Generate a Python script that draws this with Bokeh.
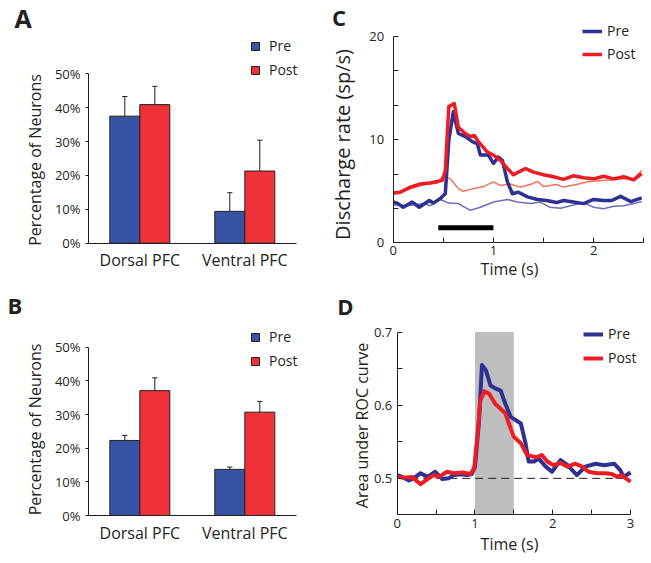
from bokeh.plotting import figure
from bokeh.models import (ColumnDataSource, Range1d, FixedTicker,
                          PrintfTickFormatter, Legend, LegendItem, Label,
                          BoxAnnotation)
from bokeh.transform import dodge
from bokeh.layouts import row, column
from bokeh.embed import file_html
from bokeh.resources import INLINE

# ---------------- data ----------------
regions = ["Dorsal PFC", "Ventral PFC"]
pct_ticks = [0, 10, 20, 30, 40, 50]

a_pre = [37.5, 9.4]
a_pre_err = [43.3, 14.9]
a_post = [40.9, 21.3]
a_post_err = [46.3, 30.4]

b_pre = [22.3, 13.7]
b_pre_err = [23.8, 14.4]
b_post = [37.1, 30.7]
b_post_err = [40.9, 33.9]

# Panel C: discharge rate (sp/s)
c_pre_t = [0, 0.04, 0.1, 0.19, 0.26, 0.36, 0.4, 0.47, 0.52, 0.555, 0.6, 0.65,
           0.72, 0.79, 0.84, 0.87, 0.95, 1.0, 1.05, 1.09, 1.14, 1.19, 1.25,
           1.34, 1.44, 1.53, 1.63, 1.7, 1.8, 1.9, 2.0, 2.1, 2.18, 2.27, 2.37, 2.48]
c_pre = [3.95, 3.85, 3.45, 3.95, 3.45, 4.1, 3.85, 4.3, 4.75, 9.9, 12.7, 10.6,
         10.3, 9.8, 9.6, 8.5, 8.5, 7.7, 8.3, 8.0, 5.9, 4.75, 4.9,
         4.45, 4.2, 4.1, 3.9, 4.1, 3.95, 3.8, 4.2, 4.1, 4.1, 4.5, 4.0, 4.35]
c_post_t = [0, 0.07, 0.17, 0.27, 0.37, 0.44, 0.49, 0.52, 0.555, 0.61, 0.65,
            0.72, 0.77, 0.81, 0.85, 0.94, 1.0, 1.07, 1.14, 1.2, 1.24, 1.32,
            1.4, 1.5, 1.6, 1.7, 1.8, 1.9, 2.0, 2.1, 2.2, 2.3, 2.4, 2.48]
c_post = [4.82, 4.9, 5.4, 5.7, 5.8, 5.95, 6.05, 7.0, 13.2, 13.5, 11.2,
          10.6, 10.3, 10.4, 9.8, 8.8, 8.5, 8.0, 7.2, 6.6, 6.8, 7.2,
          6.85, 6.6, 6.4, 6.15, 6.5, 6.3, 6.2, 6.45, 6.2, 6.4, 6.1, 6.7]
c_pre_thin_t = [0, 0.14, 0.31, 0.37, 0.47, 0.555, 0.65, 0.77, 0.87, 1.0, 1.14,
                1.24, 1.37, 1.47, 1.56, 1.67, 1.77, 1.9, 2.0, 2.1, 2.2, 2.3, 2.4, 2.48]
c_pre_thin = [3.7, 3.6, 3.8, 3.6, 4.2, 3.85, 3.8, 3.15, 3.45, 3.95, 4.2,
              3.95, 3.8, 3.95, 3.45, 3.35, 3.6, 3.9, 3.45, 3.3, 3.55, 3.6, 3.8, 4.0]
c_post_thin_t = [0, 0.14, 0.31, 0.44, 0.5, 0.57, 0.65, 0.7, 0.8, 0.9, 1.0, 1.07,
                 1.17, 1.27, 1.37, 1.44, 1.5, 1.63, 1.7, 1.83, 1.93, 2.07, 2.17,
                 2.3, 2.4, 2.48]
c_post_thin = [4.7, 5.15, 5.65, 5.8, 6.5, 6.2, 5.25, 5.0, 5.25, 5.45, 5.9, 5.55,
               5.7, 5.4, 5.65, 5.95, 5.45, 5.65, 5.4, 5.65, 5.9, 6.05, 6.1,
               6.2, 6.2, 7.0]
cue_t = [0.45, 1.0]
cue_y = [1.45, 1.45]
c_xticks = [0, 1, 2]
c_yticks = [0, 10, 20]

# Panel D: area under ROC curve
d_pre_t = [0, 0.065, 0.15, 0.21, 0.3, 0.39, 0.49, 0.58, 0.66, 0.73, 0.81, 0.9,
           0.96, 1.0, 1.05, 1.09, 1.14, 1.2, 1.26, 1.33, 1.39, 1.46, 1.52, 1.59,
           1.65, 1.69, 1.76, 1.82, 1.91, 1.99, 2.1, 2.19, 2.31, 2.42, 2.55,
           2.66, 2.79, 2.87, 2.91, 3.0]
d_pre = [0.5045, 0.502, 0.497, 0.5, 0.507, 0.502, 0.509, 0.499, 0.5, 0.5045,
         0.5055, 0.5045, 0.506, 0.516, 0.575, 0.655, 0.648, 0.627, 0.623, 0.62,
         0.602, 0.584, 0.58, 0.575, 0.548, 0.523, 0.523, 0.527, 0.516, 0.509,
         0.525, 0.518, 0.5045, 0.516, 0.52, 0.518, 0.52, 0.511, 0.502, 0.508]
d_post_t = [0, 0.09, 0.19, 0.3, 0.39, 0.47, 0.54, 0.64, 0.73, 0.84, 0.94, 0.99,
            1.03, 1.07, 1.12, 1.18, 1.26, 1.33, 1.39, 1.46, 1.5, 1.59, 1.67,
            1.74, 1.8, 1.86, 1.93, 2.01, 2.1, 2.19, 2.29, 2.38, 2.46, 2.57,
            2.68, 2.76, 2.83, 2.89, 2.94, 3.0]
d_post = [0.502, 0.501, 0.502, 0.492, 0.499, 0.5045, 0.502, 0.509, 0.507, 0.508,
          0.506, 0.514, 0.557, 0.607, 0.619, 0.616, 0.602, 0.595, 0.589, 0.568,
          0.557, 0.548, 0.532, 0.53, 0.529, 0.532, 0.523, 0.518, 0.521, 0.516,
          0.52, 0.516, 0.509, 0.507, 0.507, 0.506, 0.502, 0.5045, 0.5, 0.4955]
d_window = [1.0, 1.5]
d_chance_t = [0, 3]
d_chance = [0.5, 0.5]
d_xticks = [0, 1, 2, 3]
d_yticks = [0.5, 0.6, 0.7]

# ---------------- style ----------------
FONT = "Open Sans"
INK = "#231F20"
BAR_BLUE = "#3953A4"
BAR_RED = "#EE3237"
LINE_BLUE = "#2E3192"
LINE_RED = "#ED1C24"
THIN_BLUE = "#6C6EBF"
THIN_RED = "#F4735A"


def make_fig(w, h, xr, yr):
    p = figure(width=w, height=h, x_range=Range1d(*xr), y_range=Range1d(*yr),
               output_backend="svg", toolbar_location=None,
               min_border_left=0, min_border_right=0, min_border_top=0,
               min_border_bottom=0)
    p.xgrid.visible = False
    p.ygrid.visible = False
    p.outline_line_color = None
    for ax in (p.xaxis[0], p.yaxis[0]):
        ax.axis_line_color = INK
        ax.axis_line_width = 1
        ax.major_tick_line_color = INK
        ax.minor_tick_line_color = INK
        ax.major_label_text_font = FONT
        ax.major_label_text_font_size = "13px"
        ax.major_label_text_color = INK
    return p


def text(p, s, x, y, size, bold=False, angle=0):
    # x, y: centre of the text box, in pixels from the plot's bottom-left corner
    p.add_layout(Label(x=x, y=y, x_units="screen", y_units="screen", text=s,
                       text_font=FONT, text_font_size=f"{size}px",
                       text_font_style="bold" if bold else "normal",
                       text_color=INK, angle=angle, angle_units="deg",
                       text_align="center", text_baseline="middle"))


def legend(p, r1, r2, loc, gw, standoff, spacing):
    p.add_layout(Legend(items=[LegendItem(label="Pre", renderers=[r1]),
                               LegendItem(label="Post", renderers=[r2])],
                        location=loc, padding=0, margin=0, spacing=spacing,
                        glyph_width=gw, glyph_height=10, label_height=10,
                        label_standoff=standoff, label_text_font=FONT,
                        label_text_font_size="14px", label_text_color=INK,
                        background_fill_alpha=0, border_line_color=None))


def bar_panel(name, pre, pre_hi, post, post_hi, h, yr, ylab_y, leg_y, let_xy, let_size):
    region_x = list(range(len(regions)))
    src = ColumnDataSource(dict(x=region_x, pre=pre, pre_hi=pre_hi,
                                post=post, post_hi=post_hi))
    p = make_fig(326, h, (-1.3267, 1.778), yr)
    off, w, cap = 0.1429, 0.2857, 0.025
    r_pre = p.vbar(x=dodge("x", -off), top="pre", width=w, bottom=0, source=src,
                   fill_color=BAR_BLUE, line_color=INK, line_width=1)
    r_post = p.vbar(x=dodge("x", off), top="post", width=w, bottom=0, source=src,
                    fill_color=BAR_RED, line_color=INK, line_width=1)
    for o, lo, hi in ((-off, "pre", "pre_hi"), (off, "post", "post_hi")):
        p.segment(x0=dodge("x", o), y0=lo, x1=dodge("x", o), y1=hi,
                  source=src, line_color=INK, line_width=1)
        p.segment(x0=dodge("x", o - cap), y0=hi, x1=dodge("x", o + cap), y1=hi,
                  source=src, line_color=INK, line_width=1)
    ya, xa = p.yaxis[0], p.xaxis[0]
    ya.fixed_location = -0.4886
    ya.bounds = (0, 50)
    ya.ticker = FixedTicker(ticks=pct_ticks)
    ya.formatter = PrintfTickFormatter(format="%d%%")
    ya.major_tick_out = 3
    ya.major_tick_in = 0
    ya.minor_tick_out = 0
    ya.minor_tick_in = 0
    ya.major_label_standoff = 5
    xa.fixed_location = 0
    xa.bounds = (-0.4886, 1.4924)
    xa.ticker = FixedTicker(ticks=region_x)
    xa.major_label_overrides = {i: r for i, r in zip(region_x, regions)}
    xa.major_tick_out = 0
    xa.major_tick_in = 0
    xa.minor_tick_out = 0
    xa.minor_tick_in = 0
    xa.major_label_text_font_size = "16px"
    xa.major_label_standoff = 6
    text(p, "Percentage of Neurons", 34, ylab_y, 16, angle=90)
    legend(p, r_pre, r_post, (250, leg_y), 10, 9, 5)
    text(p, name, let_xy[0], let_xy[1], let_size, bold=True)
    return p


pA = bar_panel("A", a_pre, a_pre_err, a_post, a_post_err, 290, (-13.96, 71.63),
               130.5, 211, (22.5, 272.7), 25)
pB = bar_panel("B", b_pre, b_pre_err, b_post, b_post_err, 270, (-13.37, 66.85),
               131, 190, (14.5, 255.6), 22)

# ---------------- panel C ----------------
pC = make_fig(320, 290, (-0.6657, 2.528), (-4.624, 23.49))
pC.line(c_pre_thin_t, c_pre_thin, line_color=THIN_BLUE, line_width=1.5)
pC.line(c_post_thin_t, c_post_thin, line_color=THIN_RED, line_width=1.5)
c_r_pre = pC.line(c_pre_t, c_pre, line_color=LINE_BLUE, line_width=3.5, line_join="round")
c_r_post = pC.line(c_post_t, c_post, line_color=LINE_RED, line_width=3.5, line_join="round")
pC.line(cue_t, cue_y, line_color="black", line_width=5)
pC.xaxis[0].fixed_location = 0
pC.xaxis[0].bounds = (0, 2.5)
pC.yaxis[0].fixed_location = 0
pC.yaxis[0].bounds = (0, 20)
pC.xaxis.ticker = FixedTicker(ticks=c_xticks, minor_ticks=[0.5, 1.5, 2.5])
pC.yaxis.ticker = FixedTicker(ticks=c_yticks, minor_ticks=[10 / 3, 20 / 3, 40 / 3, 50 / 3])
for ax in (pC.xaxis[0], pC.yaxis[0]):
    ax.major_tick_in = 5
    ax.major_tick_out = 0
    ax.minor_tick_in = 5
    ax.minor_tick_out = 0
pC.yaxis.major_label_standoff = 9
pC.xaxis.major_label_standoff = 3
text(pC, "Discharge rate (sp/s)", 15.5, 146, 20, angle=90)
text(pC, "Time (s)", 183, 22, 16)
legend(pC, c_r_pre, c_r_post, (256, 227), 20, 5, 4)
text(pC, "C", 12.5, 273.6, 22, bold=True)

# ---------------- panel D ----------------
pD = make_fig(320, 270, (-0.909, 3.2056), (0.38765, 0.7569))
pD.add_layout(BoxAnnotation(left=d_window[0], right=d_window[1], bottom=0.45, top=0.7,
                            fill_color="#BCBEC0", fill_alpha=1, line_color=None,
                            level="underlay"))
pD.line(d_chance_t, d_chance, line_color=INK, line_width=1, line_dash="8 5")
d_r_pre = pD.line(d_pre_t, d_pre, line_color=LINE_BLUE, line_width=4, line_join="round")
d_r_post = pD.line(d_post_t, d_post, line_color=LINE_RED, line_width=4, line_join="round")
pD.xaxis[0].fixed_location = 0.45
pD.xaxis[0].bounds = (0, 3)
pD.yaxis[0].fixed_location = 0
pD.yaxis[0].bounds = (0.45, 0.7)
pD.xaxis.ticker = FixedTicker(ticks=d_xticks, minor_ticks=[0.5, 1.5, 2.5])
pD.yaxis.ticker = FixedTicker(ticks=d_yticks, minor_ticks=[0.45, 0.55, 0.65])
for ax in (pD.xaxis[0], pD.yaxis[0]):
    ax.major_tick_in = 5
    ax.major_tick_out = 0
    ax.minor_tick_in = 5
    ax.minor_tick_out = 0
pD.yaxis.major_label_standoff = 5
pD.xaxis.major_label_standoff = 4
text(pD, "Area under ROC curve", 35, 135, 16, angle=90)
text(pD, "Time (s)", 183, 17, 16)
legend(pD, d_r_pre, d_r_post, (257, 193), 20, 5, 5)
text(pD, "D", 19, 254.6, 22, bold=True)

layout = row(column(pA, pB), column(pC, pD))
open("out.html", "w").write(file_html(layout, INLINE))
